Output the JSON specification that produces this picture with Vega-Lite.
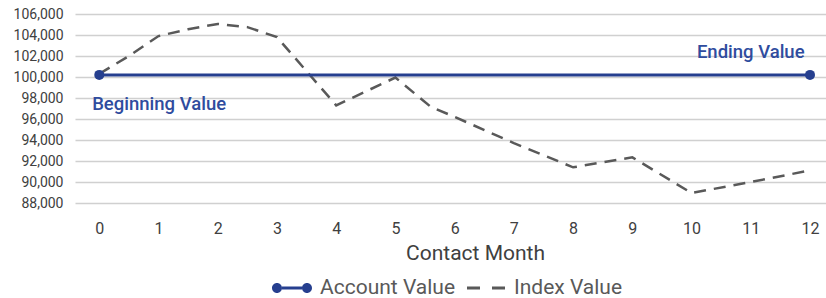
{
  "$schema": "https://vega.github.io/schema/vega-lite/v6.json",
  "width": 751,
  "height": 189,
  "padding": {"left": 0, "top": 7, "right": 0, "bottom": 0},
  "config": {
    "view": {"stroke": null},
    "font": "Roboto"
  },
  "datasets": {
    "account": [
      {"month": 0, "value": 100200, "series": "Account Value"},
      {"month": 12, "value": 100200, "series": "Account Value"}
    ],
    "index": [
      {"month": 0, "value": 100300, "series": "Index Value"},
      {"month": 0.5, "value": 102000, "series": "Index Value"},
      {"month": 1, "value": 103900, "series": "Index Value"},
      {"month": 1.5, "value": 104550, "series": "Index Value"},
      {"month": 2, "value": 105050, "series": "Index Value"},
      {"month": 2.5, "value": 104750, "series": "Index Value"},
      {"month": 3, "value": 103800, "series": "Index Value"},
      {"month": 4, "value": 97300, "series": "Index Value"},
      {"month": 5, "value": 99950, "series": "Index Value"},
      {"month": 5.6, "value": 97150, "series": "Index Value"},
      {"month": 6, "value": 96200, "series": "Index Value"},
      {"month": 7, "value": 93700, "series": "Index Value"},
      {"month": 8, "value": 91400, "series": "Index Value"},
      {"month": 9, "value": 92350, "series": "Index Value"},
      {"month": 10, "value": 88950, "series": "Index Value"},
      {"month": 11, "value": 90000, "series": "Index Value"},
      {"month": 12, "value": 91100, "series": "Index Value"}
    ],
    "notes": [
      {"month": -0.12, "value": 97450, "label": "Beginning Value"},
      {"month": 10.09, "value": 102350, "label": "Ending Value"}
    ]
  },
  "encoding": {
    "x": {
      "field": "month",
      "type": "quantitative",
      "scale": {"domain": [-0.41, 12.27], "nice": false, "zero": false},
      "axis": {
        "values": [0, 1, 2, 3, 4, 5, 6, 7, 8, 9, 10, 11, 12],
        "title": "Contact Month",
        "grid": false,
        "domain": false,
        "ticks": false,
        "labelFontSize": 16,
        "labelColor": "#404040",
        "labelPadding": 17,
        "titleFontSize": 21,
        "titleFontWeight": "normal",
        "titleColor": "#404040",
        "titlePadding": 6,
        "titleX": 400,
        "titleAlign": "center"
      }
    },
    "y": {
      "field": "value",
      "type": "quantitative",
      "scale": {"domain": [88000, 106000], "nice": false, "zero": false},
      "axis": {
        "values": [88000, 90000, 92000, 94000, 96000, 98000, 100000, 102000, 104000, 106000],
        "format": ",.0f",
        "title": null,
        "domain": false,
        "ticks": false,
        "gridColor": "#D0D0D0",
        "gridWidth": 1.5,
        "labelFontSize": 14,
        "labelColor": "#404040",
        "labelPadding": 12,
        "minExtent": 75,
        "maxExtent": 75
      }
    }
  },
  "layer": [
    {
      "data": {"name": "index"},
      "mark": {"type": "line", "strokeWidth": 2.5, "strokeDash": [12, 8]},
      "encoding": {
        "color": {
          "field": "series",
          "type": "nominal",
          "scale": {"domain": ["Account Value", "Index Value"], "range": ["#263F8F", "#595959"]},
          "legend": {
            "title": null,
            "orient": "none",
            "legendX": 197,
            "legendY": 254,
            "padding": 0,
            "direction": "horizontal",
            "labelFontSize": 21,
            "labelColor": "#595959",
            "symbolSize": 1600,
            "labelOffset": 8,
            "columnPadding": 10,
            "encode": {
              "symbols": {
                "update": {
                  "shape": {"signal": "datum.value === 'Account Value' ? 'M-0.5,-0.075L0.5,-0.075L0.5,0.075L-0.5,0.075Z M-0.5,0A0.25,0.25 0 1 1 -1,0A0.25,0.25 0 1 1 -0.5,0Z M1,0A0.25,0.25 0 1 1 0.5,0A0.25,0.25 0 1 1 1,0Z' : 'M-0.95,-0.07L-0.3,-0.07L-0.3,0.07L-0.95,0.07Z M0.3,-0.07L0.95,-0.07L0.95,0.07L0.3,0.07Z'"},
                  "fill": {"signal": "datum.value === 'Account Value' ? '#263F8F' : '#595959'"},
                  "stroke": {"value": "transparent"},
                  "strokeWidth": {"value": 0},
                  "opacity": {"value": 1}
                }
              }
            }
          }
        }
      }
    },
    {
      "data": {"name": "account"},
      "mark": {"type": "line", "strokeWidth": 3, "color": "#263F8F"},
      "encoding": {
        "color": {"field": "series", "type": "nominal"}
      }
    },
    {
      "data": {"name": "account"},
      "mark": {"type": "circle", "size": 100, "opacity": 1, "color": "#263F8F"},
      "encoding": {}
    },
    {
      "data": {"name": "notes"},
      "mark": {"type": "text", "align": "left", "baseline": "middle", "fontSize": 18.5, "fontWeight": 500, "color": "#2F4C9E"},
      "encoding": {"text": {"field": "label"}}
    }
  ]
}
